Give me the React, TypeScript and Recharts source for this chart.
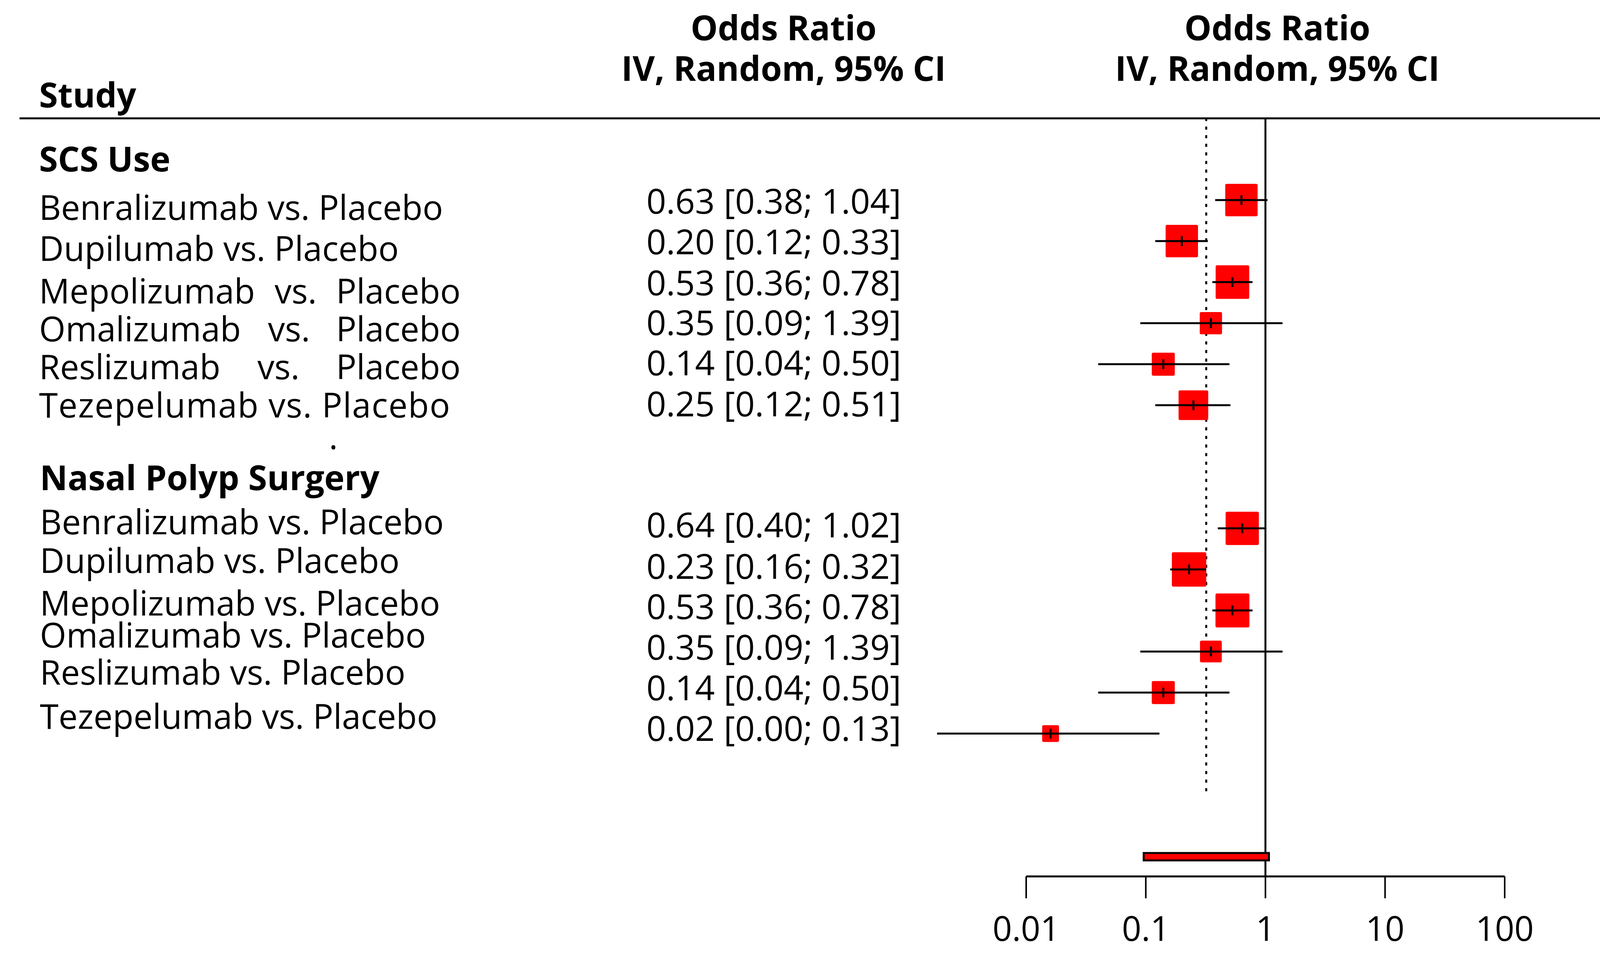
import React from 'react';
import {
  ScatterChart,
  Scatter,
  XAxis,
  YAxis,
  ReferenceLine,
  ReferenceArea,
} from 'recharts';

// ---------------- data ----------------
const groupTitles = ['SCS Use', 'Nasal Polyp Surgery'];
const studies = [
  'Benralizumab vs. Placebo',
  'Dupilumab vs. Placebo',
  'Mepolizumab vs. Placebo',
  'Omalizumab vs. Placebo',
  'Reslizumab vs. Placebo',
  'Tezepelumab vs. Placebo',
];
const scsOR = [0.63, 0.2, 0.53, 0.35, 0.14, 0.25];
const scsLower = [0.38, 0.12, 0.36, 0.09, 0.04, 0.12];
const scsUpper = [1.04, 0.33, 0.78, 1.39, 0.5, 0.51];
const scsWeight = [9.3, 9.3, 10.0, 4.4, 4.7, 7.8];

const nasalOR = [0.64, 0.23, 0.53, 0.35, 0.14, 0.016];
const nasalLower = [0.4, 0.16, 0.36, 0.09, 0.04, 0.0018];
const nasalUpper = [1.02, 0.32, 0.78, 1.39, 0.5, 0.13];
const nasalWeight = [9.8, 10.5, 10.2, 4.2, 4.7, 2.5];

const pooledOR = 0.32;
const predictionLower = 0.096;
const predictionUpper = 1.07;
const xTicks = [0.01, 0.1, 1, 10, 100];
const headerLines = ['Odds Ratio', 'IV, Random, 95% CI'];
const studyHeader = 'Study';

// ---------------- layout ----------------
const W = 4108;
const H = 2458;
const FONT = "'Open Sans', 'Noto Sans', sans-serif";
const FS = 87;
const FSV = 88.5;
const FSB = 87.5;
const scsRows = [0, 1, 2, 3, 4, 5];
const nasalRows = [8, 9, 10, 11, 12, 13];
const summaryRow = 16;
const topRow = -2;
const bottomRow = 16.48;
const dottedEndRow = 14.45;

const scsLabelY = [563, 668, 777, 874, 971, 1069];
const nasalLabelY = [1368, 1467, 1576, 1658, 1753, 1866];
const scsValueY = [547, 651, 756, 858, 961, 1066];
const nasalValueY = [1376, 1482, 1585, 1689, 1793, 1897];
// justified rows in the first group: start x of "vs." word
const justifiedVs: Record<number, number> = { 2: 703, 3: 686, 4: 659 };
const justifiedEnd = 1179;
// SCS Tezepelumab row is set slightly wider in the reference
const stretchedLen: Record<number, number> = { 5: 1052 };
const valueRight = 2307;

const fmt = (v: number) => v.toFixed(2);

const points = [
  ...scsOR.map((v, i) => ({ x: v, y: scsRows[i], w: scsWeight[i], lo: scsLower[i], hi: scsUpper[i] })),
  ...nasalOR.map((v, i) => ({ x: v, y: nasalRows[i], w: nasalWeight[i], lo: nasalLower[i], hi: nasalUpper[i] })),
];

const BoxShape = (props: any) => {
  const { cx, cy, payload } = props;
  const s = 27.2 * Math.sqrt(payload.w);
  return <rect x={cx - s / 2} y={cy - s / 2} width={s} height={s} rx={4} fill="#ff0000" />;
};

const Tick = (props: any) => {
  const { x, y, payload } = props;
  return (
    <text x={x} y={y} dy={107} textAnchor="middle" fontFamily={FONT} fontSize={FS} fill="#000">
      {String(payload.value)}
    </text>
  );
};

const Label = ({ text, x, y, idx, justify }: { text: string; x: number; y: number; idx: number; justify: boolean }) => {
  if (justify && justifiedVs[idx] !== undefined) {
    const words = text.split(' ');
    return (
      <g fontFamily={FONT} fontSize={FS} fill="#000">
        <text x={x} y={y}>{words[0]}</text>
        <text x={justifiedVs[idx]} y={y}>{words[1]}</text>
        <text x={justifiedEnd} y={y} textAnchor="end">{words[2]}</text>
      </g>
    );
  }
  const len = justify ? stretchedLen[idx] : undefined;
  return (
    <text
      x={x}
      y={y}
      fontFamily={FONT}
      fontSize={FS}
      fill="#000"
      {...(len ? { textLength: len, lengthAdjust: 'spacing' } : {})}
    >
      {text}
    </text>
  );
};

const Texts = () => (
  <g>
    {/* headers */}
    <text x={100} y={275} fontFamily={FONT} fontSize={FSB} fontWeight={700} fill="#000">{studyHeader}</text>
    {[2006, 3270].map((cx) => (
      <g key={cx}>
        <text x={cx} y={103} textAnchor="middle" fontFamily={FONT} fontSize={FSB} fontWeight={700} fill="#000">{headerLines[0]}</text>
        <text x={cx} y={207} textAnchor="middle" fontFamily={FONT} fontSize={FSB} fontWeight={700} fill="#000">{headerLines[1]}</text>
      </g>
    ))}
    <line x1={50} x2={4104} y1={303} y2={303} stroke="#000" strokeWidth={5} />

    {/* group 1 */}
    <text x={100} y={439} fontFamily={FONT} fontSize={FSB} fontWeight={700} fill="#000">{groupTitles[0]}</text>
    {studies.map((s, i) => (
      <Label key={'l1' + i} text={s} x={100} y={scsLabelY[i]} idx={i} justify />
    ))}
    {studies.map((_, i) => (
      <text key={'v1' + i} x={valueRight} y={scsValueY[i]} textAnchor="end" fontFamily={FONT} fontSize={FSV} fill="#000">
        {`${fmt(scsOR[i])} [${fmt(scsLower[i])}; ${fmt(scsUpper[i])}]`}
      </text>
    ))}
    <text x={842} y={1150} fontFamily={FONT} fontSize={FS} fill="#000">.</text>

    {/* group 2 */}
    <text x={102} y={1255} fontFamily={FONT} fontSize={FSB} fontWeight={700} fill="#000">{groupTitles[1]}</text>
    {studies.map((s, i) => (
      <Label key={'l2' + i} text={s} x={102} y={nasalLabelY[i]} idx={i} justify={false} />
    ))}
    {studies.map((_, i) => (
      <text key={'v2' + i} x={valueRight} y={nasalValueY[i]} textAnchor="end" fontFamily={FONT} fontSize={FSV} fill="#000">
        {`${fmt(nasalOR[i])} [${fmt(nasalLower[i])}; ${fmt(nasalUpper[i])}]`}
      </text>
    ))}
  </g>
);

export default function App() {
  return (
    <div style={{ position: 'absolute', left: 0, top: 0, width: W, height: H, background: '#fff' }}>
      <ScatterChart width={W} height={H} margin={{ top: 302, right: 256, bottom: 0, left: 2627 }}>
        <XAxis
          type="number"
          dataKey="x"
          scale="log"
          domain={[0.01, 100]}
          ticks={xTicks}
          interval={0}
          height={214}
          axisLine={{ stroke: '#000', strokeWidth: 5 }}
          tickLine={{ stroke: '#000', strokeWidth: 4 }}
          tickSize={56}
          tick={<Tick />}
        />
        <YAxis type="number" dataKey="y" domain={[topRow, bottomRow]} reversed hide width={0} allowDataOverflow />

        <ReferenceLine
          segment={[{ x: 1, y: topRow }, { x: 1, y: bottomRow }]}
          stroke="#000"
          strokeWidth={5}
          ifOverflow="visible"
          zIndex={550}
        />
        <ReferenceLine
          segment={[{ x: pooledOR, y: topRow }, { x: pooledOR, y: dottedEndRow }]}
          stroke="#000"
          strokeWidth={5}
          strokeDasharray="8 14"
          ifOverflow="visible"
          zIndex={550}
        />
        <ReferenceArea
          x1={predictionLower}
          x2={predictionUpper}
          y1={summaryRow - 0.09}
          y2={summaryRow + 0.09}
          fill="#ff0000"
          fillOpacity={1}
          stroke="#000"
          strokeWidth={5}
          ifOverflow="visible"
          zIndex={560}
        />

        <Scatter data={points} shape={<BoxShape />} isAnimationActive={false} zIndex={600} />

        {points.map((p, i) => (
          <ReferenceLine
            key={'w' + i}
            segment={[{ x: p.lo, y: p.y }, { x: p.hi, y: p.y }]}
            stroke="#000"
            strokeWidth={5}
            ifOverflow="visible"
            zIndex={700}
          />
        ))}
        {points.map((p, i) => (
          <ReferenceLine
            key={'t' + i}
            segment={[{ x: p.x, y: p.y - 0.12 }, { x: p.x, y: p.y + 0.12 }]}
            stroke="#000"
            strokeWidth={5}
            ifOverflow="visible"
            zIndex={710}
          />
        ))}

        <Texts />
      </ScatterChart>
    </div>
  );
}
